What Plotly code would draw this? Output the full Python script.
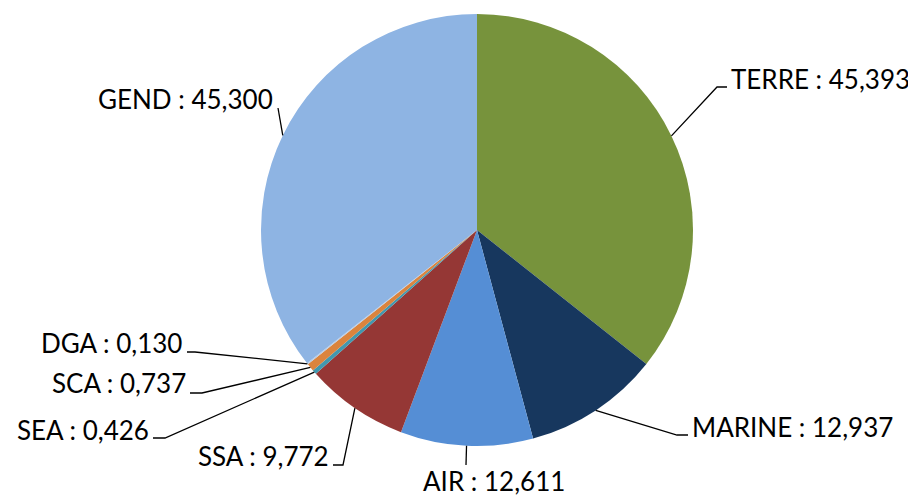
import math
import plotly.graph_objects as go

# values (clockwise from 12 o'clock)
categories = ["TERRE", "MARINE", "AIR", "SSA", "SEA", "SCA", "DGA", "GEND"]
values = [45.393, 12.937, 12.611, 9.772, 0.426, 0.737, 0.130, 45.300]
colors = ["#77933C", "#17375E", "#558ED5", "#953735",
          "#4198AF", "#DB843D", "#B9CDE5", "#8EB4E3"]

# the page body adds an 8px margin, so the figure is drawn 8px smaller
OFF = 8
W, H = 916 - OFF, 498 - OFF
CX, CY, R = 477, 230, 216          # pie centre / radius in window pixels

# label layout (window pixels): elbow point, end of leader, text anchor, side
label_pos = {
    "TERRE":  dict(elbow=(717, 87),  end=(727, 87),  text=(729, 79),  side="left"),
    "MARINE": dict(elbow=(677, 435), end=(688, 435), text=(690, 427), side="left"),
    "AIR":    dict(elbow=(466, 465), end=(466, 465), text=(494, 481), side="center"),
    "SSA":    dict(elbow=(343, 465), end=(333, 465), text=(331, 456), side="right"),
    "SEA":    dict(elbow=(165, 438), end=(153, 438), text=(151, 430), side="right"),
    "SCA":    dict(elbow=(202, 393), end=(190, 393), text=(188, 383), side="right"),
    "DGA":    dict(elbow=(195, 352), end=(187, 352), text=(184, 343), side="right"),
    "GEND":   dict(elbow=(278, 108), end=(278, 108), text=(275, 99),  side="right"),
}


def fmt(v):
    return f"{v:.3f}".replace(".", ",")


def px(x, y):
    return (x - OFF) / W, 1 - (y - OFF) / H


x0, y1 = px(CX - R, CY - R)
x1, y0 = px(CX + R, CY + R)

fig = go.Figure(go.Pie(
    labels=categories,
    values=values,
    sort=False,
    direction="clockwise",
    rotation=0,
    textinfo="none",
    hoverinfo="label+value",
    marker=dict(colors=colors, line=dict(width=0)),
    domain=dict(x=[x0, x1], y=[y0, y1]),
    showlegend=False,
))

total = sum(values)
cum = 0.0
shapes, annotations = [], []
for name, v in zip(categories, values):
    mid = (cum + v / 2) / total * 2 * math.pi
    cum += v
    ax = CX + R * math.sin(mid)
    ay = CY - R * math.cos(mid)
    p = label_pos[name]
    pts = [(ax, ay), p["elbow"], p["end"]]
    path = "M " + " L ".join(f"{px(*q)[0]},{px(*q)[1]}" for q in pts)
    shapes.append(dict(type="path", path=path, xref="paper", yref="paper",
                       line=dict(color="black", width=1.3)))
    tx, ty = px(*p["text"])
    annotations.append(dict(
        x=tx, y=ty, xref="paper", yref="paper",
        text=f"{name} : {fmt(v)}", showarrow=False,
        xanchor=p["side"], yanchor="middle",
        font=dict(family="Lato", size=26, color="black"),
    ))

fig.update_layout(
    width=W, height=H,
    margin=dict(l=0, r=0, t=0, b=0),
    paper_bgcolor="white",
    plot_bgcolor="white",
    shapes=shapes,
    annotations=annotations,
)

fig.write_html("out.html")
